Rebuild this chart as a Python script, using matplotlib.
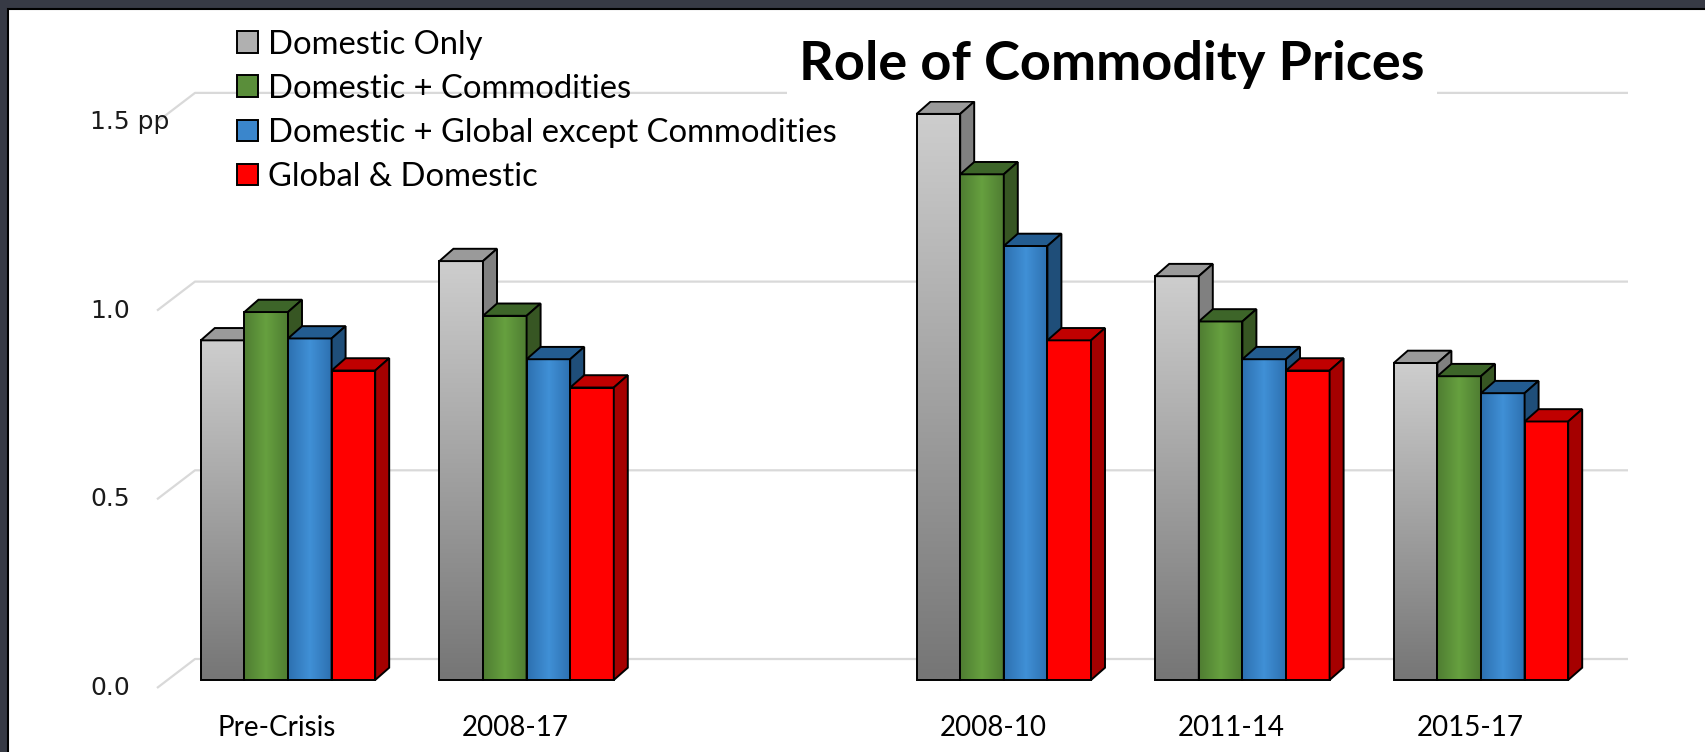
import numpy as np
import matplotlib
matplotlib.use('Agg')
import matplotlib.pyplot as plt
from matplotlib.patches import Rectangle, Polygon, Patch

# data
categories = ['Pre-Crisis', '2008-17', '2008-10', '2011-14', '2015-17']
positions = [0, 1, 3, 4, 5]  # empty slot between the two blocks
series_names = ['Domestic Only', 'Domestic + Commodities',
                'Domestic + Global except Commodities', 'Global & Domestic']
domestic_only = [0.90, 1.11, 1.50, 1.07, 0.84]
domestic_commodities = [0.975, 0.965, 1.34, 0.95, 0.805]
domestic_global_ex = [0.905, 0.85, 1.15, 0.85, 0.76]
global_domestic = [0.82, 0.775, 0.90, 0.82, 0.685]
yticks = [0.0, 0.5, 1.0, 1.5]
ytick_labels = ['0.0', '0.5', '1.0', '1.5 pp']

W, H = 1705, 752
px_x = 238.6   # pixels per category step
px_y = 377.4   # pixels per 1.0 pp
x0_px, y0_px = 288, 680   # first group centre / bar base in pixels

fig = plt.figure(figsize=(W / 100, H / 100), dpi=100)
fig.patch.set_facecolor('#373a45')
fig.add_artist(Rectangle((8 / W, -0.1), 1.2, 1.1 - 9 / H, transform=fig.transFigure,
                         facecolor='white', edgecolor='black', lw=1.5, zorder=-10))

ax = fig.add_axes([0, 0, 1, 1])
ax.set_facecolor('none')
ax.axis('off')
xlim = (-x0_px / px_x, (W - x0_px) / px_x)
ylim = (-(H - y0_px) / px_y, y0_px / px_y)

# 3d look offsets
bw = 43.6 / px_x
ddx, ddy = 14 / px_x, 12.3 / px_y
back_dy = 21 / px_y       # back wall above bar base
front_dy = -8 / px_y      # front plane below bar base
back_x0, back_x1 = (195 - x0_px) / px_x, (1628 - x0_px) / px_x
front_x0 = (157 - x0_px) / px_x

for v in yticks:
    ax.plot([front_x0, back_x0, back_x1], [v + front_dy, v + back_dy, v + back_dy],
            color='#d9d9d9', lw=1.6, zorder=1, solid_capstyle='butt')
    ax.text((90 - x0_px) / px_x, v + front_dy, ytick_labels[yticks.index(v)],
            ha='left', va='center', fontsize=18, family='DejaVu Sans', color='#1a1a1a')

def grad(c1, c2, n=64, center=False):
    c1 = np.array(matplotlib.colors.to_rgb(c1))
    c2 = np.array(matplotlib.colors.to_rgb(c2))
    t = np.linspace(0, 1, n)
    if center:
        t = 1 - np.abs(2 * t - 1)
    return c1[None, :] * (1 - t[:, None]) + c2[None, :] * t[:, None]

styles = [
    # (gradient kind, c1, c2, top, side)
    ('v', '#767676', '#cdcdcd', '#9a9a9a', '#808080'),
    ('h', '#4f7d32', '#66a03f', '#3d6529', '#375623'),
    ('h', '#2d70b0', '#4090d6', '#235c90', '#1f4e79'),
    ('f', '#ff0000', '#ff0000', '#c00000', '#a50000'),
]
series = [domestic_only, domestic_commodities, domestic_global_ex, global_domestic]
elw = 1.4

for g, p in enumerate(positions):
    for i, vals in enumerate(series):
        h = vals[g]
        kind, c1, c2, ctop, cside = styles[i]
        left = p - 2 * bw + i * bw
        z = 3 + i * 0.1
        front = Rectangle((left, 0), bw, h, facecolor=c1, edgecolor='none', zorder=z)
        ax.add_patch(front)
        if kind == 'v':
            img = grad(c1, c2)[:, None, :]
        elif kind == 'h':
            img = grad(c1, c2, center=True)[None, :, :]
        else:
            img = None
        if img is not None:
            im = ax.imshow(img, extent=(left, left + bw, 0, h), origin='lower',
                           aspect='auto', zorder=z + 0.01, interpolation='bilinear')
            im.set_clip_path(front)
        ax.add_patch(Rectangle((left, 0), bw, h, facecolor='none', edgecolor='black',
                               lw=elw, zorder=z + 0.02))
        top = Polygon([(left, h), (left + ddx, h + ddy), (left + bw + ddx, h + ddy), (left + bw, h)],
                      closed=True, facecolor=ctop, edgecolor='black', lw=elw, zorder=z + 0.03)
        side = Polygon([(left + bw, 0), (left + bw + ddx, ddy), (left + bw + ddx, h + ddy), (left + bw, h)],
                       closed=True, facecolor=cside, edgecolor='black', lw=elw, zorder=z + 0.03)
        ax.add_patch(top)
        ax.add_patch(side)
    ax.text(p - 11 / px_x, (y0_px - 728) / px_y, categories[g], ha='center', va='center',
            fontsize=20, family='Lato', color='black')

ax.set_xlim(xlim)
ax.set_ylim(ylim)

handles = [Patch(facecolor=c, edgecolor='black', lw=elw)
           for c in ['#b0b0b0', '#5a8e3a', '#3a86cc', '#ff0000']]
leg = ax.legend(handles, series_names, loc='upper left',
                bbox_to_anchor=(237.5 / W, 1 - 29.5 / H), bbox_transform=fig.transFigure,
                frameon=False, prop={'family': 'Lato', 'size': 23.6},
                handlelength=0.64, handleheight=0.62, handletextpad=0.3,
                labelspacing=0.43, borderpad=0, borderaxespad=0)
leg.set_zorder(5)

fig.text(1112 / W, 1 - 80 / H, 'Role of Commodity Prices', ha='center', va='baseline',
         fontsize=39, fontweight='bold', family='Lato', color='black', zorder=6,
         bbox=dict(facecolor='white', edgecolor='none', pad=9))

fig.savefig('out.png', dpi=100, facecolor=fig.get_facecolor())
